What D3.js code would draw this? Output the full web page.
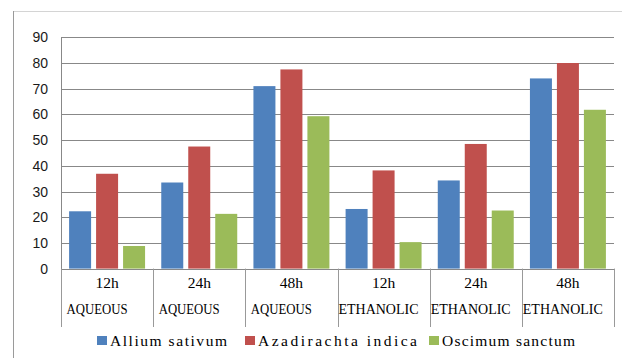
<!DOCTYPE html>
<html>
<head>
<meta charset="utf-8">
<script src="https://cdn.jsdelivr.net/npm/d3@7"></script>
<style>
  html, body { margin: 0; padding: 0; background: #fff; }
  svg { display: block; }
  .ylab { font-family: "Liberation Sans", Arial, sans-serif; font-size: 14px; fill: #1a1a1a; }
  .cat, .leg { font-family: "Liberation Serif", "Times New Roman", serif; font-size: 15.5px; fill: #000; }
</style>
</head>
<body>
<svg id="chart" width="622" height="358"></svg>
<script>
// Time points and extract types shown on the two-row category axis
const hours = ["12h", "24h", "48h", "12h", "24h", "48h"];
const extracts = ["AQUEOUS", "AQUEOUS", "AQUEOUS", "ETHANOLIC", "ETHANOLIC", "ETHANOLIC"];

// Series names and their values per category
const seriesNames = ["Allium sativum", "Azadirachta indica", "Oscimum sanctum"];
const alliumSativum = [22.3, 33.5, 71, 23.2, 34.3, 74];
const azadirachtaIndica = [36.9, 47.5, 77.5, 38.2, 48.5, 80];
const oscimumSanctum = [8.8, 21.3, 59.3, 10.3, 22.6, 61.8];

// Value axis ticks
const yTicks = [0, 10, 20, 30, 40, 50, 60, 70, 80, 90];

const seriesValues = [alliumSativum, azadirachtaIndica, oscimumSanctum];
const colors = ["#4F81BD", "#C0504D", "#9BBB59"];

const svg = d3.select("#chart");
const plot = { left: 61, right: 614, top: 37.3, bottom: 268.6 };

// Outer chart frame
svg.append("line").attr("x1", 13).attr("x2", 622).attr("y1", 11.5).attr("y2", 11.5)
  .attr("stroke", "#d4d4d4").attr("stroke-width", 1);
svg.append("line").attr("x1", 13.5).attr("x2", 13.5).attr("y1", 11).attr("y2", 358)
  .attr("stroke", "#9a9a9a").attr("stroke-width", 1);

const categoryIdx = d3.range(hours.length);

const x0 = d3.scaleBand()
  .domain(categoryIdx)
  .range([plot.left, plot.right])
  .paddingInner(0).paddingOuter(0);

const x1 = d3.scaleBand()
  .domain(d3.range(seriesNames.length))
  .range([0, x0.bandwidth()])
  .paddingInner(0.185).paddingOuter(0.3);

const y = d3.scaleLinear()
  .domain([0, 90])
  .range([plot.bottom, plot.top]);

// Horizontal gridlines
svg.append("g")
  .selectAll("line")
  .data(yTicks)
  .join("line")
  .attr("x1", plot.left)
  .attr("x2", plot.right)
  .attr("y1", d => Math.round(y(d)) + 0.5)
  .attr("y2", d => Math.round(y(d)) + 0.5)
  .attr("stroke", "#888")
  .attr("stroke-width", 1);

// Value axis line
svg.append("line")
  .attr("x1", plot.left + 0.5).attr("x2", plot.left + 0.5)
  .attr("y1", Math.round(y(90)) + 0.5).attr("y2", Math.round(y(0)) + 0.5)
  .attr("stroke", "#888");

// Value axis labels
svg.append("g")
  .selectAll("text")
  .data(yTicks)
  .join("text")
  .attr("class", "ylab")
  .attr("x", 48)
  .attr("y", d => y(d))
  .attr("dy", "0.36em")
  .attr("text-anchor", "end")
  .text(d => d);

// Bars
const groups = svg.append("g")
  .selectAll("g")
  .data(categoryIdx)
  .join("g")
  .attr("transform", i => `translate(${x0(i)},0)`);

groups.selectAll("rect")
  .data(i => seriesValues.map((vals, s) => ({ s, v: vals[i] })))
  .join("rect")
  .attr("x", d => x1(d.s))
  .attr("width", x1.bandwidth())
  .attr("y", d => y(d.v))
  .attr("height", d => y(0) - y(d.v))
  .attr("fill", d => colors[d.s]);

// Category dividers below the axis
svg.append("g")
  .selectAll("line")
  .data(d3.range(hours.length + 1))
  .join("line")
  .attr("x1", i => Math.round(plot.left + i * x0.step()) + 0.5)
  .attr("x2", i => Math.round(plot.left + i * x0.step()) + 0.5)
  .attr("y1", plot.bottom)
  .attr("y2", 327)
  .attr("stroke", "#999");

// Category labels: hour row (centred) and extract row (left)
svg.append("g")
  .selectAll("text")
  .data(categoryIdx)
  .join("text")
  .attr("class", "cat")
  .attr("x", i => x0(i) + x0.bandwidth() / 2)
  .attr("y", 288)
  .attr("text-anchor", "middle")
  .text(i => hours[i]);

svg.append("g")
  .selectAll("text")
  .data(categoryIdx)
  .join("text")
  .attr("class", "cat")
  .attr("x", i => x0(i) + (extracts[i] === "AQUEOUS" ? 5.5 : 1))
  .attr("y", 314)
  .attr("textLength", i => extracts[i] === "AQUEOUS" ? 61 : 80)
  .attr("lengthAdjust", "spacingAndGlyphs")
  .text(i => extracts[i]);

// Legend
const legendItems = [
  { name: seriesNames[0], sx: 97, tx: 110, w: 117 },
  { name: seriesNames[1], sx: 245, tx: 258, w: 159 },
  { name: seriesNames[2], sx: 429, tx: 442, w: 133 }
];
const legend = svg.append("g");
legend.selectAll("rect")
  .data(legendItems)
  .join("rect")
  .attr("x", d => d.sx)
  .attr("y", 336)
  .attr("width", 10)
  .attr("height", 9)
  .attr("fill", (d, i) => colors[i]);
legend.selectAll("text")
  .data(legendItems)
  .join("text")
  .attr("class", "leg")
  .attr("x", d => d.tx)
  .attr("y", 346)
  .attr("textLength", d => d.w)
  .attr("lengthAdjust", "spacing")
  .text(d => d.name);
</script>
</body>
</html>
